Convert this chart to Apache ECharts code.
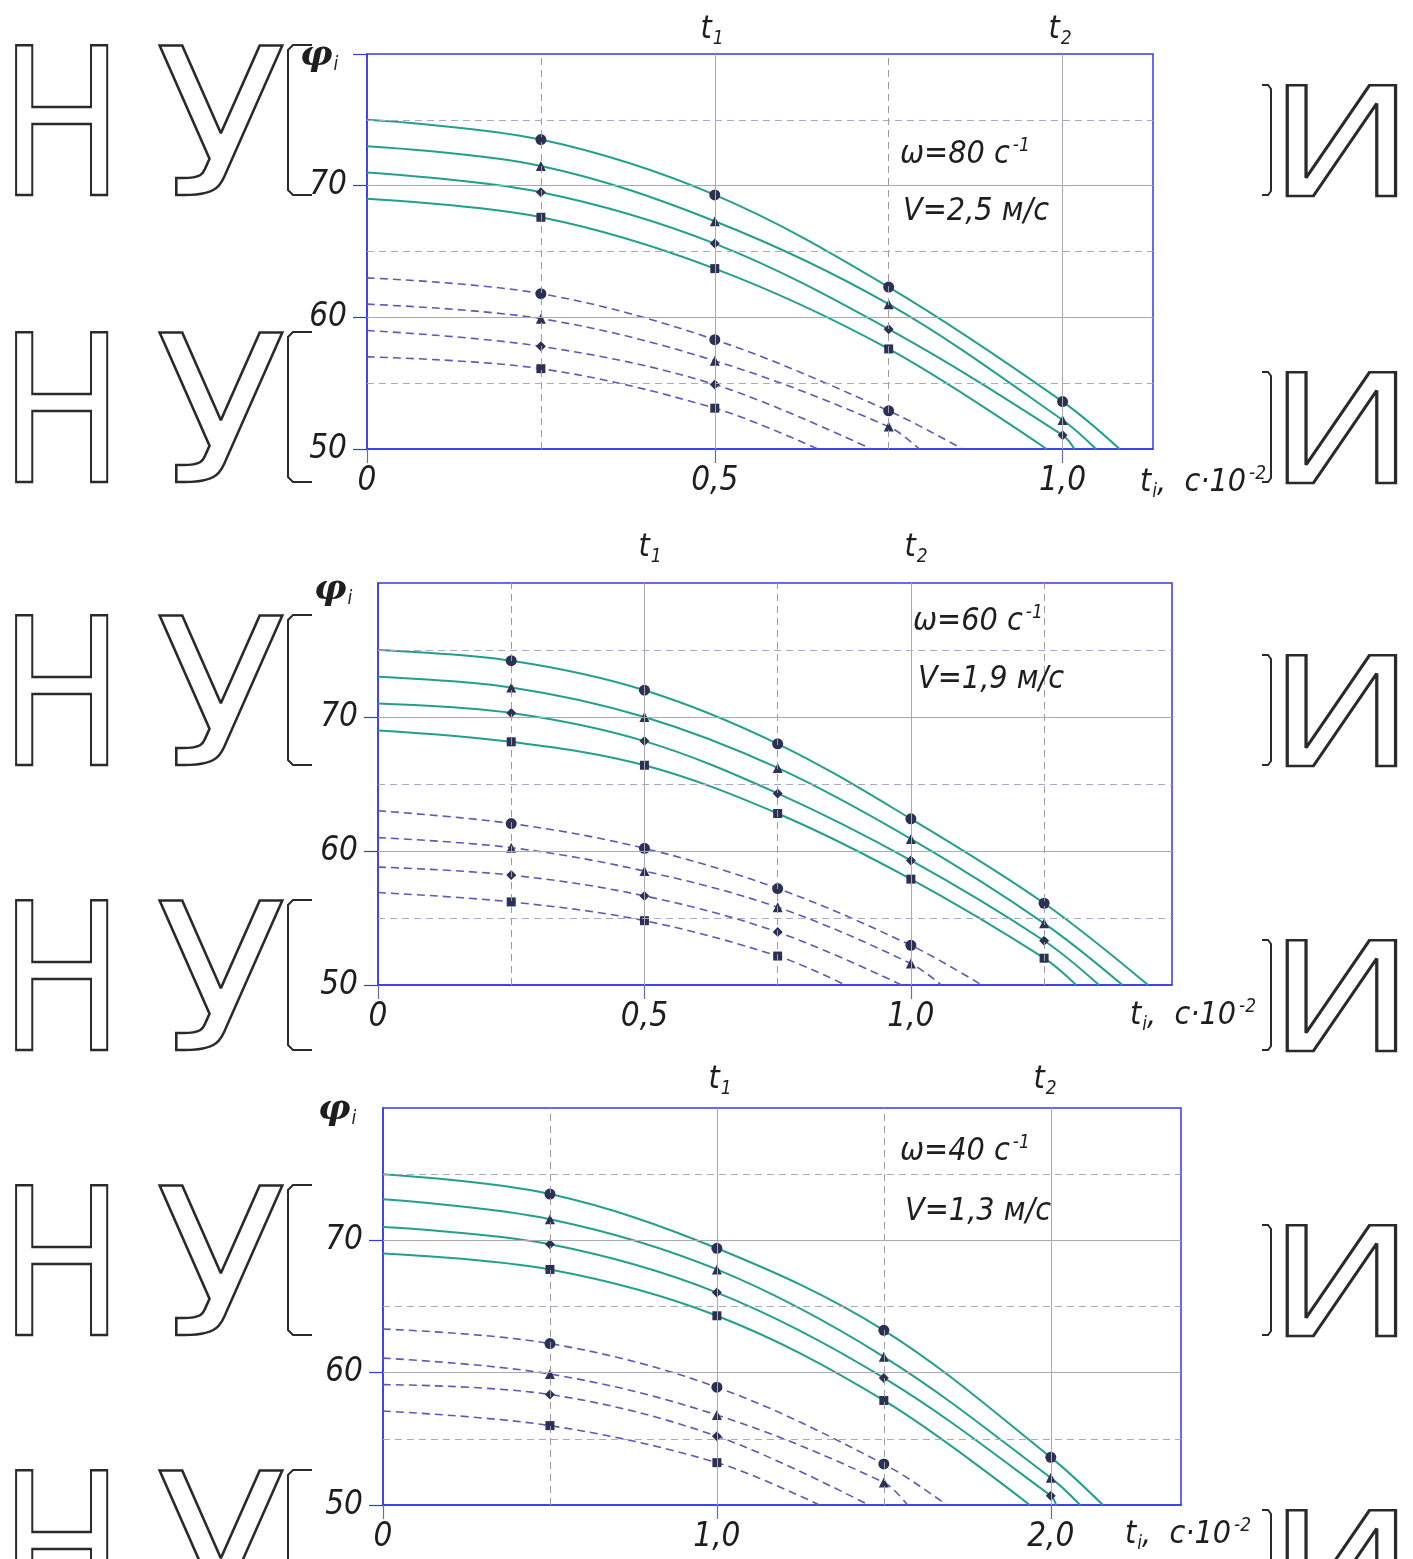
<!DOCTYPE html>
<html><head><meta charset="utf-8">
<script src="https://cdn.jsdelivr.net/npm/echarts/dist/echarts.min.js"></script>
<style>html,body{margin:0;padding:0;background:#fff}#c{width:1413px;height:1559px}</style>
</head><body><div id="c"></div><script>
// ---------- DATA ----------
// Panel 1 (ω=80 с^-1, V=2,5 м/с)
const p1X = [0, 0.25, 0.5, 0.75, 1.0];
const p1Solid = [[75, 73.5, 69.3, 62.3, 53.6], [73, 71.5, 67.3, 61.0, 52.2], [71, 69.5, 65.6, 59.1, 51.05], [69, 67.6, 63.7, 57.6]];
const p1SolidEnd = [1.082, 1.048, 1.017, 0.977];
const p1Dashed = [[63, 61.8, 58.3, 52.9], [61, 59.9, 56.7, 51.7], [59, 57.8, 54.9], [57, 56.1, 53.1]];
const p1DashedEnd = [0.856, 0.794, 0.725, 0.648];
const p1TickX = [0, 0.5, 1.0];
const p1GridSolidX = [0.5, 1.0];
const p1GridDashX = [0.25, 0.75];

// Panel 2 (ω=60 с^-1, V=1,9 м/с)
const p2X = [0, 0.25, 0.5, 0.75, 1.0, 1.25];
const p2Solid = [[75, 74.2, 72.0, 68.0, 62.4, 56.1], [73, 72.2, 70.0, 66.2, 60.9, 54.6], [71, 70.3, 68.2, 64.3, 59.3, 53.3], [69, 68.15, 66.4, 62.8, 57.9, 52.0]];
const p2SolidEnd = [1.445, 1.397, 1.353, 1.31];
const p2Dashed = [[63, 62.05, 60.2, 57.2, 52.96], [61, 60.25, 58.5, 55.8, 51.6], [58.8, 58.2, 56.65, 53.95], [56.9, 56.2, 54.8, 52.16]];
const p2DashedEnd = [1.133, 1.057, 0.983, 0.877];
const p2TickX = [0, 0.5, 1.0];
const p2GridSolidX = [0.5, 1.0];
const p2GridDashX = [0.25, 0.75, 1.25];

// Panel 3 (ω=40 с^-1, V=1,3 м/с)
const p3X = [0, 0.5, 1.0, 1.5, 2.0];
const p3Solid = [[75, 73.5, 69.4, 63.2, 53.6], [73.1, 71.6, 67.8, 61.2, 52.05], [71, 69.7, 66.05, 59.6, 50.7], [69, 67.8, 64.3, 57.9]];
const p3SolidEnd = [2.156, 2.088, 2.016, 1.937];
const p3Dashed = [[63.3, 62.2, 58.9, 53.1], [61.1, 59.9, 56.8, 51.7], [59.1, 58.35, 55.2], [57.1, 56.0, 53.2]];
const p3DashedEnd = [1.688, 1.571, 1.455, 1.307];
const p3TickX = [0, 1.0, 2.0];
const p3GridSolidX = [1.0, 2.0];
const p3GridDashX = [0.5, 1.5];

const yTicks = [50, 60, 70];
const gridSolidY = [60, 70];
const gridDashY = [55, 65, 75];
const omegaVals = ['80', '60', '40'];
const speedVals = ['2,5', '1,9', '1,3'];

// ---------- STYLE ----------
const FONT = '"Liberation Sans Narrow","DejaVu Sans Condensed",sans-serif';
const BLUE = '#3636ee';
const TEAL = '#22a08c';
const DASHC = '#5a5ab8';
const MARK = '#2c3052';
const TXT = '#1e1e1e';
const symbols = ['circle', 'triangle', 'diamond', 'rect'];
const symSizes = [11, 10, 10, 9];

const panels = [
  {X: p1X, S: p1Solid, SE: p1SolidEnd, D: p1Dashed, DE: p1DashedEnd, tick: p1TickX, gsx: p1GridSolidX, gdx: p1GridDashX,
   grid: {left: 367, top: 54, width: 786, height: 395}, xmax: 1.13, yTickVals: [50, 60, 70, 80]},
  {X: p2X, S: p2Solid, SE: p2SolidEnd, D: p2Dashed, DE: p2DashedEnd, tick: p2TickX, gsx: p2GridSolidX, gdx: p2GridDashX,
   grid: {left: 378, top: 583, width: 794, height: 402}, xmax: 1.49, yTickVals: [50, 60, 70]},
  {X: p3X, S: p3Solid, SE: p3SolidEnd, D: p3Dashed, DE: p3DashedEnd, tick: p3TickX, gsx: p3GridSolidX, gdx: p3GridDashX,
   grid: {left: 383, top: 1108, width: 798, height: 397}, xmax: 2.39, yTickVals: [50, 60, 70]}
];

function curve(xs, ys, endX) {
  const d = ys.map((y, i) => i === 0 ? {value: [xs[i], y], symbol: 'none'} : {value: [xs[i], y]});
  d.push({value: [endX, 50], symbol: 'none'});
  return d;
}
function fmtX(v) { return v === 0 ? '0' : v.toFixed(1).replace('.', ','); }

const grids = [], xAxes = [], yAxes = [], series = [];
panels.forEach((p, i) => {
  grids.push(Object.assign({show: true, backgroundColor: '#fff', borderColor: BLUE, borderWidth: 1.5}, p.grid));
  xAxes.push({
    gridIndex: i, type: 'value', min: 0, max: p.xmax, interval: 0.25,
    axisLine: {show: true, onZero: false, lineStyle: {color: BLUE, width: 1.5}},
    axisTick: {show: true, customValues: p.tick, length: 14, lineStyle: {color: '#6a6aa0', width: 1.2}},
    axisLabel: {customValues: p.tick, formatter: fmtX, fontFamily: FONT, fontStyle: 'italic', fontSize: 33, color: TXT, margin: 16},
    splitLine: {show: false}
  });
  yAxes.push({
    gridIndex: i, type: 'value', min: 50, max: 80, interval: 10,
    axisLine: {show: true, onZero: false, lineStyle: {color: BLUE, width: 1.5}},
    axisTick: {show: true, customValues: p.yTickVals, length: 14, lineStyle: {color: BLUE, width: 1.2}},
    axisLabel: {customValues: yTicks, fontFamily: FONT, fontStyle: 'italic', fontSize: 33, color: TXT, margin: 20},
    splitLine: {show: false}
  });
  const ml = [];
  p.gsx.forEach(v => ml.push({xAxis: v, lineStyle: {color: '#a9a9b4', width: 1, type: 'solid'}}));
  p.gdx.forEach(v => ml.push({xAxis: v, lineStyle: {color: '#9a9ab0', width: 1, type: [7, 5]}}));
  gridSolidY.forEach(v => ml.push({yAxis: v, lineStyle: {color: '#a9a9b4', width: 1, type: 'solid'}}));
  gridDashY.forEach(v => ml.push({yAxis: v, lineStyle: {color: '#a8a8cc', width: 1, type: [7, 5]}}));
  series.push({type: 'line', xAxisIndex: i, yAxisIndex: i, data: [], silent: true, z: 1,
    markLine: {silent: true, symbol: ['none', 'none'], label: {show: false}, data: ml}});
  p.S.forEach((ys, k) => series.push({
    type: 'line', xAxisIndex: i, yAxisIndex: i, smooth: 0.35, z: 3,
    data: curve(p.X, ys, p.SE[k]), symbol: symbols[k], symbolSize: symSizes[k], showSymbol: true,
    lineStyle: {color: TEAL, width: 2}, itemStyle: {color: MARK, borderWidth: 0}
  }));
  p.D.forEach((ys, k) => series.push({
    type: 'line', xAxisIndex: i, yAxisIndex: i, smooth: 0.35, z: 2,
    data: curve(p.X, ys, p.DE[k]), symbol: symbols[k], symbolSize: symSizes[k], showSymbol: true,
    lineStyle: {color: DASHC, width: 1.6, type: [8, 5]}, itemStyle: {color: MARK, borderWidth: 0}
  }));
});

// ---------- TEXT ----------
const rich = {
  b: {fontFamily: FONT, fontStyle: 'italic', fontSize: 32, color: TXT},
  phi: {fontFamily: '"DejaVu Serif",serif', fontStyle: 'italic', fontWeight: 'bold', fontSize: 36, color: TXT},
  sub: {fontFamily: FONT, fontStyle: 'italic', fontSize: 19, color: TXT, padding: [18, 0, 0, 1]},
  sup: {fontFamily: FONT, fontStyle: 'italic', fontSize: 19, color: TXT, padding: [0, 0, 18, 3]}
};
function txt(x, y, s, align) {
  return {type: 'text', x: x, y: y, z: 50, style: {text: s, rich: rich, align: align || 'left', verticalAlign: 'middle', fill: TXT}};
}
const textPos = [
  {phi: [300, 56], t1: [712, 30], t2: [1060, 30], w: [900, 155], v: [903, 212], xn: [1140, 483]},
  {phi: [314, 590], t1: [650, 548], t2: [916, 548], w: [913, 622], v: [918, 680], xn: [1130, 1016]},
  {phi: [318, 1110], t1: [720, 1080], t2: [1045, 1080], w: [900, 1152], v: [905, 1212], xn: [1125, 1535]}
];
const graphic = [];
// background watermark rows (hollow letters)
const wmBase = [195, 482, 765, 1050, 1335, 1620];
const wmStyle = {fontFamily: '"DejaVu Sans",sans-serif', fill: 'rgba(0,0,0,0)', stroke: '#2a2a2a', lineWidth: 2.5, verticalAlign: 'middle', align: 'left'};
wmBase.forEach(b => {
  graphic.push({type: 'text', x: 0, y: b - 53, scaleX: 0.8, z: 0, silent: true, style: Object.assign({text: 'Н', fontSize: 205}, wmStyle)});
  graphic.push({type: 'text', x: 156, y: b - 53, scaleX: 1.04, z: 0, silent: true, style: Object.assign({text: 'У', fontSize: 205}, wmStyle)});
  graphic.push({type: 'text', x: 1268, y: b - 38, scaleX: 1.3, z: 0, silent: true, style: Object.assign({text: 'И', fontSize: 151}, wmStyle)});
  graphic.push({type: 'polyline', z: 0, silent: true, shape: {points: [[312, b - 150], [293, b - 150], [288, b - 145], [288, b - 5], [293, b], [312, b]]},
    style: {stroke: '#2a2a2a', lineWidth: 2, fill: null}});
  graphic.push({type: 'polyline', z: 0, silent: true, shape: {points: [[1262, b - 110], [1268, b - 110], [1271, b - 106], [1271, b - 4], [1268, b], [1262, b]]},
    style: {stroke: '#2a2a2a', lineWidth: 2, fill: null}});
});
textPos.forEach((t, i) => {
  graphic.push(txt(t.phi[0], t.phi[1], '{phi|φ}{sub|i}'));
  graphic.push(txt(t.t1[0], t.t1[1], '{b|t}{sub|1}', 'center'));
  graphic.push(txt(t.t2[0], t.t2[1], '{b|t}{sub|2}', 'center'));
  graphic.push(txt(t.w[0], t.w[1], '{b|ω=' + omegaVals[i] + ' с}{sup|-1}'));
  graphic.push(txt(t.v[0], t.v[1], '{b|V=' + speedVals[i] + ' м/с}'));
  graphic.push(txt(t.xn[0], t.xn[1], '{b|t}{sub|i}{b|,  с·10}{sup|-2}'));
});

const chart = echarts.init(document.getElementById('c'), null, {renderer: 'canvas'});
chart.setOption({
  animation: false,
  backgroundColor: '#fff',
  grid: grids, xAxis: xAxes, yAxis: yAxes, series: series, graphic: graphic
});
</script></body></html>
